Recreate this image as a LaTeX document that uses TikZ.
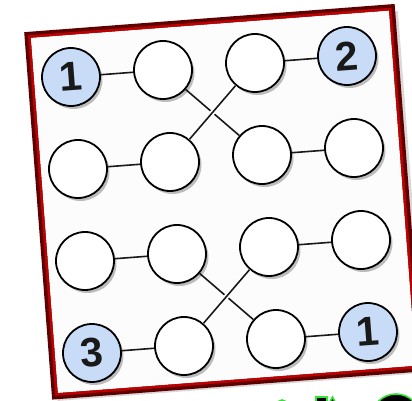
\documentclass[tikz,border=0pt]{standalone}
\usepackage{fontspec}
\setmainfont{Liberation Sans}
\usetikzlibrary{shadows}
\definecolor{frameout}{HTML}{5E0000}
\definecolor{framein}{HTML}{C00000}
\definecolor{cellblue}{HTML}{C8DCF8}
\definecolor{glowgreen}{HTML}{33E633}
\tikzset{
  cell/.style={circle, draw=black, line width=1.8pt, minimum size=58pt, inner sep=0pt,
    fill=white, drop shadow={shadow xshift=2.5pt, shadow yshift=-3pt, opacity=0.25, fill=black}},
  given/.style={cell, fill=cellblue, font=\fontsize{41}{41}\selectfont\bfseries, text=black!90},
  link/.style={line width=1.6pt, black!90},
  overlink/.style={link, preaction={draw=white, line width=5pt}},
  glyph/.style={fill=black, draw=glowgreen, line width=1.6pt}
}
\begin{document}
\begin{tikzpicture}[x=1pt,y=1pt]
\useasboundingbox (0,0) rectangle (412,401);
\clip (0,0) rectangle (412,401);
\fill[white] (0,0) rectangle (412,401);
% partial green title below the frame
\fill[glyph] (396,-18) circle (25);
\fill[glyph] (316,4) rectangle (327,-8);
\fill[glyph] (326,-8) -- (332.5,4) -- (339,-8) -- cycle;
\fill[glyph] (282,-4) circle (5);
\begin{scope}[shift={(71,324)}, rotate=4.35]
  % frame
  \fill[black, opacity=0.15] (-38,-322) rectangle (331,41);
  \draw[frameout, line width=6.5pt, fill=white!98!black] (-40,-317) rectangle (325,45);
  \draw[framein, line width=2.5pt] (-38.5,-315.5) rectangle (323.5,43.5);
  \fill[white!99!black] (-37,-314) rectangle (322,42);
  % cells
  \def\s{92.27}
  \node[given, rotate=4.35] (a1) at (0,0) {1};
  \node[cell] (a2) at (\s,0) {};
  \node[cell] (a3) at (2*\s,0) {};
  \node[given, rotate=4.35] (a4) at (3*\s,0) {2};
  \node[cell] (b1) at (0,-\s) {};
  \node[cell] (b2) at (\s,-\s) {};
  \node[cell] (b3) at (2*\s,-\s) {};
  \node[cell] (b4) at (3*\s,-\s) {};
  \node[cell] (c1) at (0,-2*\s) {};
  \node[cell] (c2) at (\s,-2*\s) {};
  \node[cell] (c3) at (2*\s,-2*\s) {};
  \node[cell] (c4) at (3*\s,-2*\s) {};
  \node[given, rotate=4.35] (d1) at (0,-3*\s) {3};
  \node[cell] (d2) at (\s,-3*\s) {};
  \node[cell] (d3) at (2*\s,-3*\s) {};
  \node[given, rotate=4.35] (d4) at (3*\s,-3*\s) {1};
  % connectors
  \draw[link] (a1) -- (a2);
  \draw[link] (a3) -- (a4);
  \draw[link] (b1) -- (b2);
  \draw[link] (b3) -- (b4);
  \draw[link] (c1) -- (c2);
  \draw[link] (c3) -- (c4);
  \draw[link] (d1) -- (d2);
  \draw[link] (d3) -- (d4);
  \draw[link] (a2) -- (b3);
  \draw[overlink] (a3) -- (b2);
  \draw[link] (c2) -- (d3);
  \draw[overlink] (c3) -- (d2);
\end{scope}
\end{tikzpicture}
\end{document}
